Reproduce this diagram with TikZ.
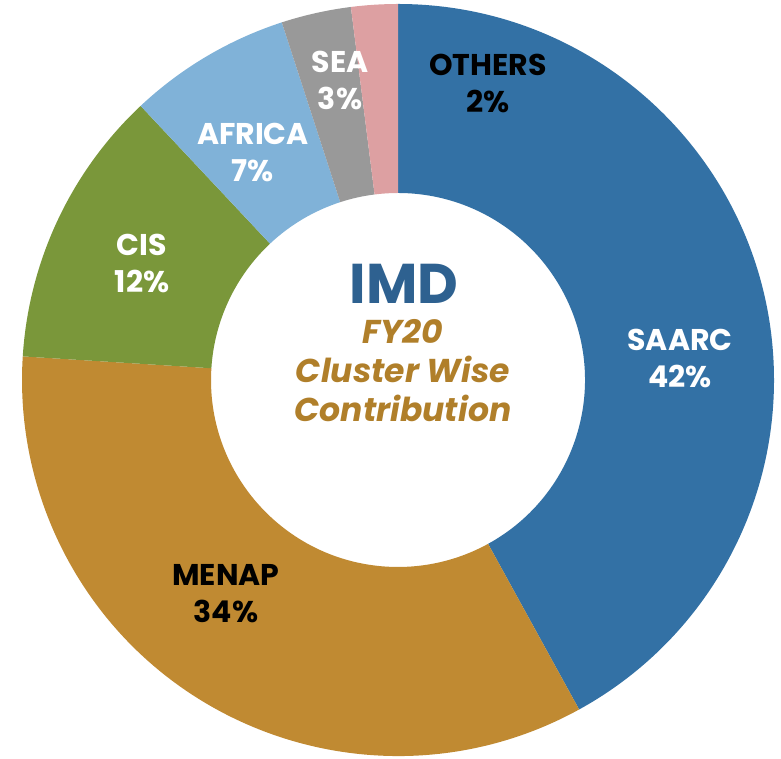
\documentclass[tikz,border=0pt]{standalone}
\usepackage{fontspec}
\setmainfont{Poppins}
\definecolor{saarc}{HTML}{3371A5}
\definecolor{menap}{HTML}{C08A32}
\definecolor{cis}{HTML}{7A973A}
\definecolor{africa}{HTML}{80B2D8}
\definecolor{sea}{HTML}{999999}
\definecolor{others}{HTML}{DDA0A2}
\definecolor{imd}{HTML}{2E6190}
\definecolor{gold}{HTML}{B07F2A}
\begin{document}
\begin{tikzpicture}[x=1pt,y=1pt,
  lab/.style={align=center,font=\fontsize{30}{37}\selectfont\bfseries,inner sep=0pt},
  ctr/.style={align=center,inner sep=0pt}]
\useasboundingbox (0,0) rectangle (781,759);
\def\RO{376pt}\def\RI{187pt}
\begin{scope}[shift={(398,379)}]
\foreach \a/\b/\c in {90/-61.2/saarc, -61.2/-183.6/menap, 176.4/133.2/cis, 133.2/108/africa, 108/97.2/sea, 97.2/90/others}{
  \fill[\c] (\a:\RO) arc[start angle=\a,end angle=\b,radius=\RO] -- (\b:\RI) arc[start angle=\b,end angle=\a,radius=\RI] -- cycle;
}
\end{scope}
\node[lab,text=white] (saarc) at (680,401) {SAARC\\42\%};
\node[lab,text=black] (menap) at (226,165) {MENAP\\34\%};
\node[lab,text=white] (cis) at (142,496) {CIS\\12\%};
\node[lab,text=white] (africa) at (253,606) {AFRICA\\7\%};
\node[lab,text=white] (sea) at (340,679) {SEA\\3\%};
\node[lab,text=black] (others) at (488,676) {OTHERS\\2\%};
\node[ctr,text=imd,font=\fontsize{56}{56}\selectfont\bfseries] (imd) at (404,475) {IMD};
\node[ctr,text=gold,font=\fontsize{33}{39}\selectfont\bfseries\itshape] (sub) at (403,388) {FY20\\Cluster Wise\\Contribution};
\end{tikzpicture}
\end{document}
